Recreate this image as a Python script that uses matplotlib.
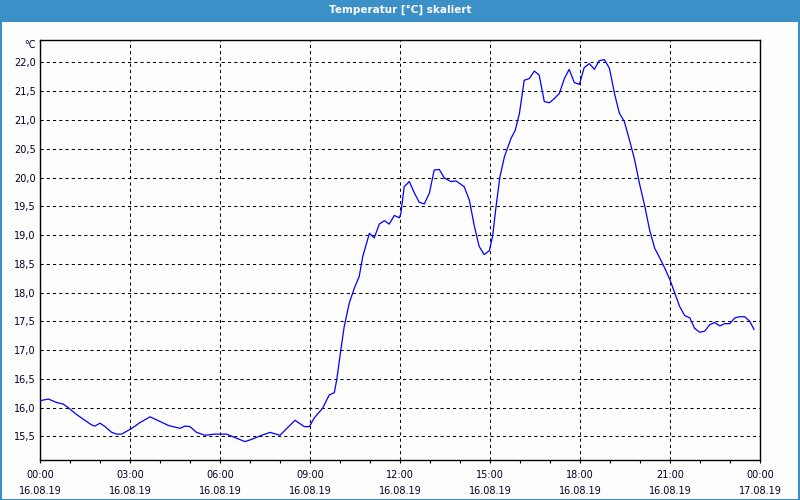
import matplotlib
matplotlib.use('Agg')
import matplotlib.pyplot as plt
from matplotlib.patches import Rectangle
from matplotlib.ticker import MultipleLocator, FixedLocator

# time in hours since 16.08.19 00:00, temperature in degC
hours = [0.0, 0.28, 0.55, 0.78, 0.94, 1.22, 1.44, 1.72, 1.83, 2.0, 2.17, 2.39, 2.56, 2.72,
         3.06, 3.33, 3.67, 4.0, 4.28, 4.67, 4.83, 5.0, 5.22, 5.5, 5.83, 6.22, 6.5, 6.83,
         7.06, 7.39, 7.67, 8.0, 8.5, 8.81, 8.98, 9.14, 9.42, 9.64, 9.81, 9.89, 10.03, 10.14,
         10.31, 10.48, 10.64, 10.76, 10.87, 10.98, 11.14, 11.31, 11.48, 11.64, 11.81, 11.98,
         12.03, 12.14, 12.31, 12.48, 12.64, 12.81, 12.98, 13.14, 13.31, 13.48, 13.70, 13.87,
         14.14, 14.31, 14.48, 14.64, 14.81, 14.98, 15.09, 15.2, 15.33, 15.48, 15.7, 15.84,
         15.98, 16.14, 16.31, 16.48, 16.64, 16.81, 16.98, 17.14, 17.31, 17.48, 17.64, 17.81,
         17.98, 18.14, 18.31, 18.48, 18.64, 18.81, 18.98, 19.15, 19.31, 19.48, 19.65, 19.82,
         19.98, 20.16, 20.32, 20.49, 20.66, 20.82, 21.0, 21.16, 21.32, 21.49, 21.66, 21.82,
         21.99, 22.16, 22.32, 22.49, 22.66, 22.82, 22.99, 23.16, 23.32, 23.49, 23.66, 23.8]
temps = [16.12, 16.15, 16.09, 16.06, 16.0, 15.88, 15.80, 15.70, 15.68, 15.73, 15.67, 15.57,
         15.54, 15.54, 15.64, 15.74, 15.84, 15.76, 15.69, 15.64, 15.68, 15.67, 15.57, 15.52,
         15.54, 15.54, 15.48, 15.41, 15.45, 15.52, 15.57, 15.52, 15.78, 15.67, 15.67, 15.82,
         15.99, 16.22, 16.26, 16.48, 17.01, 17.41, 17.82, 18.08, 18.28, 18.63, 18.83, 19.03,
         18.95, 19.19, 19.25, 19.19, 19.34, 19.30, 19.38, 19.84, 19.93, 19.73, 19.57, 19.54,
         19.73, 20.13, 20.14, 19.99, 19.93, 19.94, 19.84, 19.61, 19.15, 18.80, 18.66, 18.73,
         18.99, 19.49, 20.01, 20.36, 20.68, 20.82, 21.11, 21.69, 21.72, 21.85, 21.78, 21.32,
         21.30, 21.37, 21.46, 21.72, 21.88, 21.65, 21.62, 21.91, 21.98, 21.88, 22.03, 22.05,
         21.90, 21.46, 21.12, 20.97, 20.65, 20.31, 19.90, 19.50, 19.09, 18.77, 18.60, 18.43,
         18.22, 17.99, 17.76, 17.60, 17.56, 17.38, 17.31, 17.33, 17.44, 17.48, 17.42, 17.46,
         17.46, 17.56, 17.58, 17.58, 17.50, 17.36]

xticks = [0, 3, 6, 9, 12, 15, 18, 21, 24]
xticklabels = ['00:00\n16.08.19', '03:00\n16.08.19', '06:00\n16.08.19', '09:00\n16.08.19',
               '12:00\n16.08.19', '15:00\n16.08.19', '18:00\n16.08.19', '21:00\n16.08.19',
               '00:00\n17.08.19']
yticks = [15.5, 16.0, 16.5, 17.0, 17.5, 18.0, 18.5, 19.0, 19.5, 20.0, 20.5, 21.0, 21.5, 22.0]

bg = '#fcfdfc'
frame_blue = '#3c90c8'
txtcol = '#000028'

fig = plt.figure(figsize=(8, 5), dpi=100, facecolor=bg)

# title bar and outer frame
fig.patches.append(Rectangle((0, 1 - 22/500.), 1, 22/500., transform=fig.transFigure,
                             facecolor=frame_blue, edgecolor='none', zorder=0))
fig.patches.append(Rectangle((0.5/800, 0.5/500), 1 - 1.5/800, 1 - 1.5/500, transform=fig.transFigure,
                             facecolor='none', edgecolor=frame_blue, linewidth=1.5, zorder=1))
fig.text(0.5, 1 - 10/500., u'Temperatur [\u00b0C] skaliert', color='white', fontsize=7.5,
         fontweight='bold', ha='center', va='center')

ax = fig.add_axes([40/800., 40/500., 720/800., 420/500.])
ax.set_facecolor(bg)

ax.plot(hours, temps, color='#0000ff', linewidth=0.9, zorder=3)

ax.set_xlim(0, 24)
ax.set_ylim(15.09, 22.39)

ax.xaxis.set_major_locator(FixedLocator(xticks))
ax.xaxis.set_minor_locator(MultipleLocator(1))
ax.set_xticklabels(xticklabels, fontsize=7, color=txtcol, linespacing=1.65)
ax.set_yticks(yticks)
ax.set_yticklabels([('%.1f' % v).replace('.', ',') for v in yticks], fontsize=7, color=txtcol)

ax.tick_params(axis='x', which='both', direction='out', length=2.5, width=0.8, pad=5)
ax.tick_params(axis='y', which='both', length=0, pad=3)

ax.grid(True, which='major', color='black', linestyle=(0, (3, 3)), linewidth=0.75)
ax.set_axisbelow(True)
for s in ax.spines.values():
	s.set_linewidth(1.0)
	s.set_color('black')

ax.text(-0.006, 1.0, u'\u00b0C', transform=ax.transAxes, fontsize=7, color=txtcol,
        ha='right', va='top')

fig.savefig('out.png', dpi=100, facecolor=bg)
